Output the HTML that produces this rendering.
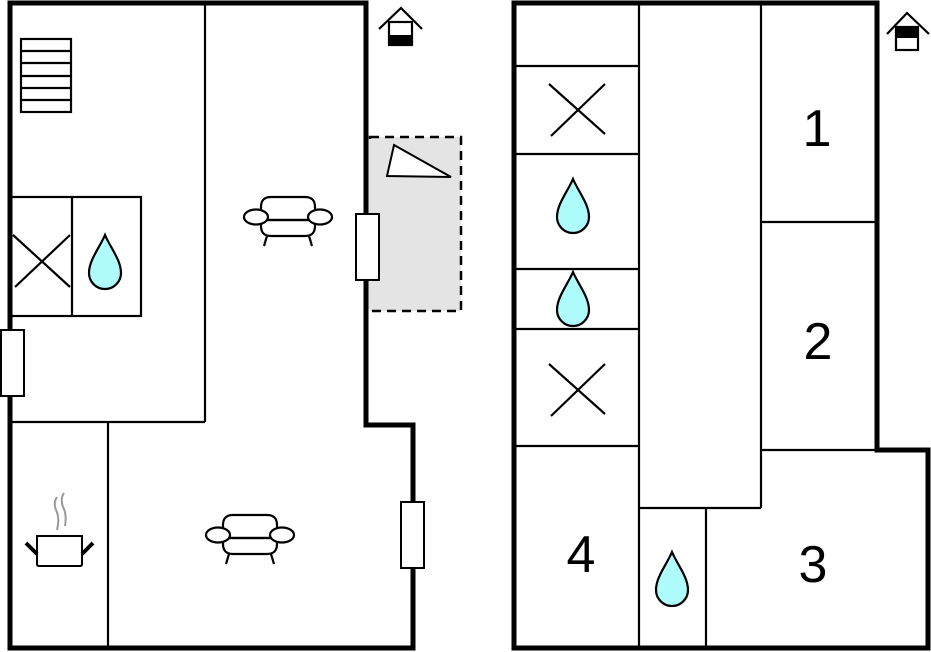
<!DOCTYPE html>
<html><head><meta charset="utf-8"><style>html,body{margin:0;padding:0;background:#fff}svg{display:block}</style></head>
<body>
<svg width="931" height="652" viewBox="0 0 931 652" xmlns="http://www.w3.org/2000/svg">
<defs>
<path id="drop" d="M0,0 C5,12 16,25 16,38 A16,16 0 0 1 -16,38 C-16,25 -5,12 0,0Z" fill="#aefcfc" stroke="#000" stroke-width="2.2"/>
<g id="sofa" fill="#fff" stroke="#000" stroke-width="2.2">
<path d="M-27,0 L-27,-11 Q-27,-21 -17,-21 L17,-21 Q27,-21 27,-11 L27,0"/>
<path d="M-27,2 L-27,8 Q-27,18 -17,18 L17,18 Q27,18 27,8 L27,2 Z"/>
<line x1="-26" y1="2" x2="26" y2="2"/>
<ellipse cx="-32" cy="-1" rx="12" ry="7.5"/>
<ellipse cx="32" cy="-1" rx="12" ry="7.5"/>
<line x1="-21" y1="18" x2="-24" y2="28"/>
<line x1="21" y1="18" x2="24" y2="28"/>
</g>
</defs>
<rect x="370" y="137" width="91" height="174" fill="#e4e4e4" stroke="#000" stroke-width="2.5" stroke-dasharray="9,6"/>
<rect x="368" y="139" width="6" height="170" fill="#e4e4e4"/>
<polygon points="394,145 451,177 387,176" fill="#fff" stroke="#000" stroke-width="2"/>
<g stroke="#000" stroke-width="2.2" fill="none">
<line x1="205" y1="3" x2="205" y2="422"/>
<line x1="10" y1="422" x2="205" y2="422"/>
<line x1="108" y1="422" x2="108" y2="648"/>
<rect x="10" y="197" width="131" height="119"/>
<line x1="72" y1="197" x2="72" y2="316"/>
<line x1="13" y1="235" x2="70" y2="287"/>
<line x1="70" y1="235" x2="15" y2="287"/>
<rect x="21" y="39" width="50" height="73"/>
<line x1="21" y1="51" x2="71" y2="51"/><line x1="21" y1="63" x2="71" y2="63"/><line x1="21" y1="76" x2="71" y2="76"/><line x1="21" y1="88" x2="71" y2="88"/><line x1="21" y1="100" x2="71" y2="100"/>
</g>
<path d="M10,648 L10,3 L366,3 L366,425 L413,425 L413,648 Z" fill="none" stroke="#000" stroke-width="5"/>
<g fill="#fff" stroke="#000" stroke-width="2">
<rect x="356" y="214" width="23" height="66"/>
<rect x="1" y="330" width="23" height="66"/>
<rect x="401" y="502" width="23" height="66"/>
</g>
<use href="#drop" x="105" y="235"/>
<use href="#sofa" x="288" y="218"/>
<use href="#sofa" x="250" y="536"/>
<g stroke="#000" fill="#fff">
<path d="M37,536 L82,536 L82,564 Q82,566 80,566 L39,566 Q37,566 37,564 Z" stroke-width="2"/>
<line x1="26" y1="543" x2="37" y2="554" stroke-width="4"/>
<line x1="82" y1="554" x2="93" y2="543" stroke-width="4"/>
</g>
<g stroke="#999" stroke-width="2" fill="none">
<path d="M57,497 Q53,503 56,510 Q60,518 57,530"/>
<path d="M64,493 Q60,499 63,507 Q67,514 65,526"/>
</g>
<g stroke="#000" stroke-width="2.2" fill="none">
<polyline points="379,29 401,8 422,29"/>
<rect x="389" y="22" width="23" height="23" fill="#fff"/>
</g>
<rect x="389" y="35" width="23" height="11" fill="#000"/>
<g stroke="#000" stroke-width="2.2" fill="none">
<line x1="639" y1="3" x2="639" y2="648"/>
<line x1="514" y1="66" x2="639" y2="66"/>
<line x1="514" y1="154" x2="639" y2="154"/>
<line x1="514" y1="269" x2="639" y2="269"/>
<line x1="514" y1="329" x2="639" y2="329"/>
<line x1="514" y1="446" x2="639" y2="446"/>
<line x1="761" y1="3" x2="761" y2="508"/>
<line x1="639" y1="508" x2="761" y2="508"/>
<line x1="706" y1="508" x2="706" y2="648"/>
<line x1="761" y1="222" x2="877" y2="222"/>
<line x1="761" y1="450" x2="877" y2="450"/>
<line x1="549" y1="84" x2="605" y2="134"/>
<line x1="605" y1="84" x2="551" y2="136"/>
<line x1="549" y1="364" x2="605" y2="414"/>
<line x1="605" y1="364" x2="551" y2="416"/>
</g>
<path d="M514,648 L514,3 L877,3 L877,450 L928,450 L928,648 Z" fill="none" stroke="#000" stroke-width="5"/>
<use href="#drop" x="573" y="179"/>
<use href="#drop" x="573" y="272"/>
<use href="#drop" x="672" y="552"/>
<g font-family="Liberation Sans, sans-serif" font-size="52" text-anchor="middle" fill="#000">
<text x="817" y="146">1</text>
<text x="818" y="359">2</text>
<text x="813" y="582">3</text>
<text x="581" y="572">4</text>
</g>
<g stroke="#000" stroke-width="2.2" fill="none">
<polyline points="887,34 907,13 929,34"/>
<rect x="896" y="27" width="22" height="23" fill="#fff"/>
</g>
<rect x="896" y="27" width="22" height="11" fill="#000"/>
</svg>
</body></html>
